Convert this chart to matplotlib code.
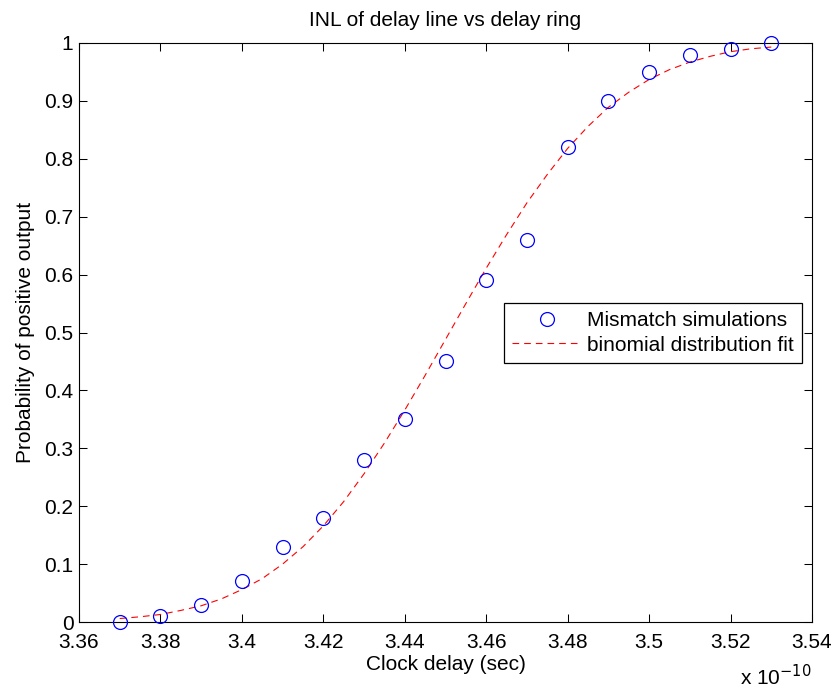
import matplotlib
matplotlib.use("Agg")
import matplotlib.pyplot as plt

plt.rcParams['font.family'] = ['Liberation Sans', 'DejaVu Sans']

# Data (clock delay in units of 1e-10 s)
sim_delay = [3.37, 3.38, 3.39, 3.40, 3.41, 3.42, 3.43, 3.44, 3.45,
             3.46, 3.47, 3.48, 3.49, 3.50, 3.51, 3.52, 3.53]
sim_prob = [0.00, 0.01, 0.03, 0.07, 0.13, 0.18, 0.28, 0.35, 0.45,
            0.59, 0.66, 0.82, 0.90, 0.95, 0.98, 0.99, 1.00]

fit_delay = [3.370, 3.375, 3.380, 3.385, 3.390, 3.395, 3.400, 3.405, 3.410,
             3.415, 3.420, 3.425, 3.430, 3.435, 3.440, 3.445, 3.450, 3.455,
             3.460, 3.465, 3.470, 3.475, 3.480, 3.485, 3.490, 3.495, 3.500,
             3.505, 3.510, 3.515, 3.520, 3.525, 3.530]
fit_prob = [0.006, 0.009, 0.013, 0.020, 0.028, 0.040, 0.056, 0.075, 0.100,
            0.130, 0.166, 0.208, 0.256, 0.309, 0.366, 0.426, 0.488, 0.550,
            0.611, 0.669, 0.724, 0.773, 0.818, 0.856, 0.889, 0.915, 0.937,
            0.954, 0.967, 0.977, 0.985, 0.990, 0.993]

x_ticks = [3.36, 3.38, 3.40, 3.42, 3.44, 3.46, 3.48, 3.50, 3.52, 3.54]
y_ticks = [0, 0.1, 0.2, 0.3, 0.4, 0.5, 0.6, 0.7, 0.8, 0.9, 1]

FS = 15

fig = plt.figure(figsize=(8.36, 6.88), dpi=100)
ax = fig.add_axes([79/836, 1-622/688, (812-79)/836, (622-43)/688])

ax.plot(sim_delay, sim_prob, linestyle='none', marker='o', markersize=10,
        markerfacecolor='none', markeredgecolor='#0000ff', markeredgewidth=0.9,
        label='Mismatch simulations', zorder=3, clip_on=False)
ax.plot(fit_delay, fit_prob, color='#ff0000', linestyle=(0, (6.0, 4.5)),
        linewidth=0.8, label='binomial distribution fit', zorder=2)

ax.set_xlim(3.36, 3.54)
ax.set_ylim(0, 1)
ax.set_xticks(x_ticks)
ax.set_xticklabels(['%g' % t for t in x_ticks])
ax.set_yticks(y_ticks)
ax.set_yticklabels(['%g' % t for t in y_ticks])
ax.tick_params(direction='in', length=5.5, width=0.75, top=True, right=True,
               labelsize=FS, colors='black')
ax.tick_params(axis='x', pad=8)
ax.tick_params(axis='y', pad=4)
for sp in ax.spines.values():
    sp.set_linewidth(0.8)
    sp.set_color('black')

ax.set_title('INL of delay line vs delay ring', fontsize=FS, pad=12)
ax.set_xlabel('Clock delay (sec)', fontsize=FS, labelpad=2)
ax.set_ylabel('Probability of positive output', fontsize=FS, labelpad=7)
ax.text(1.0, -0.072, 'x 10$^{-10}$', transform=ax.transAxes, ha='right',
        va='top', fontsize=FS)

leg = ax.legend(loc='upper left', bbox_to_anchor=(0.5798, 0.551), fontsize=FS,
                frameon=True, fancybox=False, edgecolor='black',
                borderpad=0.4, handlelength=3.3, handletextpad=0.3,
                labelspacing=0.25, borderaxespad=0)
leg.get_frame().set_linewidth(0.9)
leg.get_frame().set_alpha(None)

fig.savefig('out.png', dpi=100)
